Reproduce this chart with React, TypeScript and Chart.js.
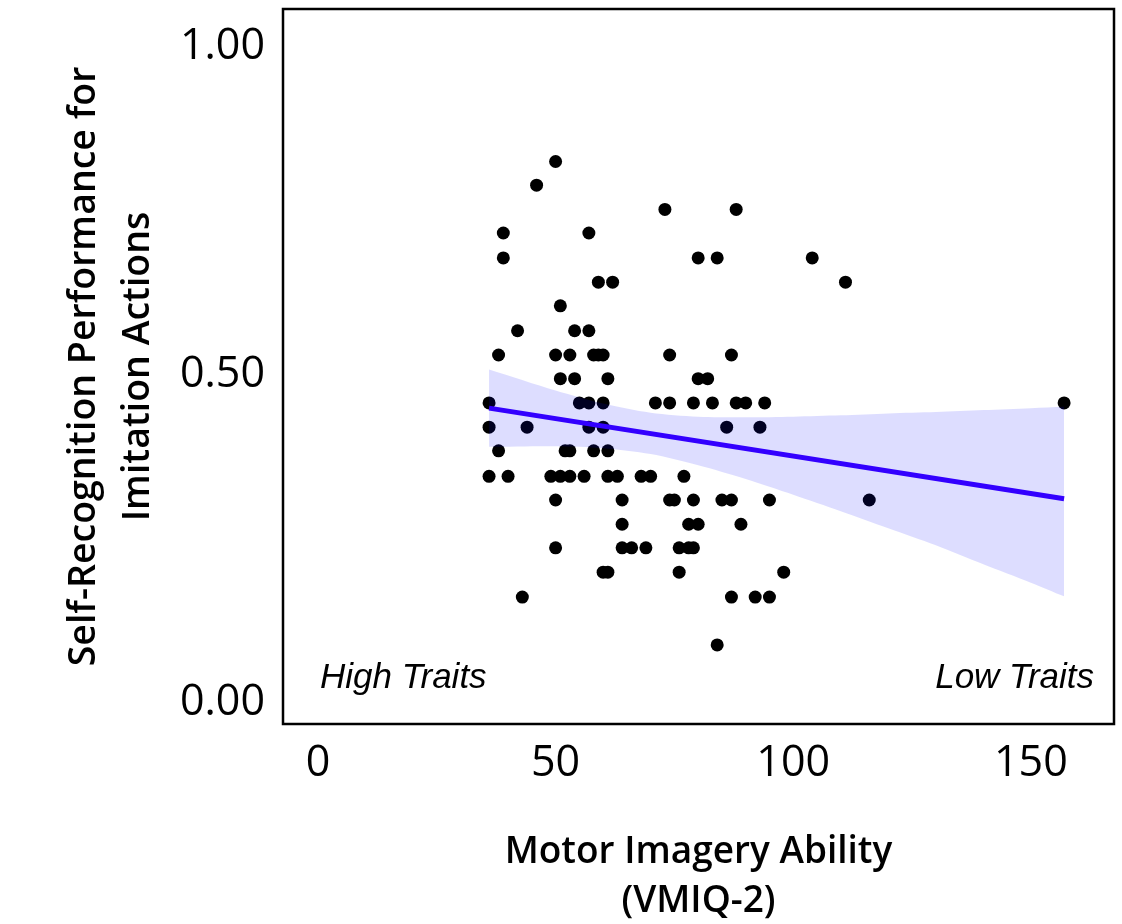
import { useEffect, useRef } from 'react';
import { Chart, registerables } from 'chart.js';

Chart.register(...registerables);

// VMIQ-2 total score (lower = stronger imagery) for each participant
const motorImagery = [
  50,
  46,
  73, 88,
  39, 57,
  39, 80, 84, 104,
  59, 62, 111,
  51,
  42, 54, 57,
  38, 50, 53, 58, 59, 60, 74, 87,
  51, 54, 61, 80, 82,
  36, 55, 57, 60, 71, 74, 79, 83, 88, 90, 94, 157,
  36, 44, 57, 60, 86, 93,
  38, 52, 53, 58, 61,
  36, 40, 49, 51, 53, 56, 61, 63, 68, 70, 77,
  50, 64, 74, 75, 79, 85, 87, 95, 116,
  64, 78, 80, 89,
  50, 64, 66, 69, 76, 78, 79,
  60, 61, 76, 98,
  43, 87, 92, 95,
  84,
];

// Proportion of imitation actions correctly recognised as one's own
const selfRecognition = [
  0.825,
  0.789,
  0.752, 0.752,
  0.716, 0.716,
  0.678, 0.678, 0.678, 0.678,
  0.641, 0.641, 0.641,
  0.605,
  0.567, 0.567, 0.567,
  0.530, 0.530, 0.530, 0.530, 0.530, 0.530, 0.530, 0.530,
  0.494, 0.494, 0.494, 0.494, 0.494,
  0.457, 0.457, 0.457, 0.457, 0.457, 0.457, 0.457, 0.457, 0.457, 0.457, 0.457, 0.457,
  0.420, 0.420, 0.420, 0.420, 0.420, 0.420,
  0.384, 0.384, 0.384, 0.384, 0.384,
  0.345, 0.345, 0.345, 0.345, 0.345, 0.345, 0.345, 0.345, 0.345, 0.345, 0.345,
  0.309, 0.309, 0.309, 0.309, 0.309, 0.309, 0.309, 0.309, 0.309,
  0.272, 0.272, 0.272, 0.272,
  0.236, 0.236, 0.236, 0.236, 0.236, 0.236, 0.236,
  0.199, 0.199, 0.199, 0.199,
  0.161, 0.161, 0.161, 0.161,
  0.088,
];

// Linear fit and its 95% confidence band
const fitX = [36, 157];
const fitY = [0.449, 0.311];
const bandX = [36, 50, 60, 70, 80, 90, 100, 110, 120, 130, 140, 150, 157];
const bandUpper = [0.508, 0.476, 0.456, 0.442, 0.436, 0.435, 0.436, 0.438, 0.441, 0.443, 0.446, 0.449, 0.451];
const bandLower = [0.390, 0.391, 0.388, 0.379, 0.362, 0.341, 0.317, 0.292, 0.266, 0.240, 0.211, 0.183, 0.162];

const xTicks = [0, 50, 100, 150];
const yTicks = [0, 0.5, 1];
const xTitle = ['Motor Imagery Ability', '(VMIQ-2)'];
const yTitle = ['Self-Recognition Performance for', 'Imitation Actions'];
const cornerNotes = ['High Traits', 'Low Traits'];

const SANS = '"Open Sans", "Noto Sans", sans-serif';

const frameAndNotes = {
  id: 'frameAndNotes',
  afterDatasetsDraw(chart: any) {
    const { ctx, chartArea: a } = chart;
    ctx.save();
    ctx.strokeStyle = '#000';
    ctx.lineWidth = 2.5;
    ctx.strokeRect(a.left, a.top, a.right - a.left, a.bottom - a.top);
    ctx.fillStyle = '#000';
    ctx.font = 'italic 35px "Liberation Sans", Arial, sans-serif';
    ctx.textBaseline = 'alphabetic';
    ctx.textAlign = 'left';
    ctx.fillText(cornerNotes[0], a.left + 37, a.bottom - 36);
    ctx.textAlign = 'right';
    ctx.fillText(cornerNotes[1], a.right - 20, a.bottom - 36);
    ctx.restore();
  },
};

export default function App() {
  const canvasRef = useRef<HTMLCanvasElement | null>(null);

  useEffect(() => {
    const canvas = canvasRef.current;
    if (!canvas) return;

    const points = motorImagery.map((x, i) => ({ x, y: selfRecognition[i] }));
    const fit = fitX.map((x, i) => ({ x, y: fitY[i] }));
    const upper = bandX.map((x, i) => ({ x, y: bandUpper[i] }));
    const lower = bandX.map((x, i) => ({ x, y: bandLower[i] }));

    const chart = new Chart(canvas, {
      type: 'line',
      data: {
        datasets: [
          {
            label: 'fit',
            data: fit,
            borderColor: '#3300ff',
            borderWidth: 5,
            pointRadius: 0,
            fill: false,
            order: 1,
          },
          {
            label: 'ci-upper',
            data: upper,
            borderColor: 'rgba(0,0,0,0)',
            borderWidth: 0,
            pointRadius: 0,
            backgroundColor: 'rgba(0,0,255,0.135)',
            fill: '+1',
            tension: 0.3,
            order: 2,
          },
          {
            label: 'ci-lower',
            data: lower,
            borderColor: 'rgba(0,0,0,0)',
            borderWidth: 0,
            pointRadius: 0,
            fill: false,
            tension: 0.3,
            order: 2,
          },
          {
            label: 'participants',
            data: points,
            showLine: false,
            pointRadius: 6.5,
            pointBorderWidth: 0,
            pointBackgroundColor: '#000',
            pointBorderColor: '#000',
            order: 3,
          },
        ],
      },
      options: {
        responsive: false,
        animation: false,
        devicePixelRatio: 1,
        events: [],
        layout: { padding: { top: 9, right: 8, left: 0, bottom: 0 } },
        plugins: {
          legend: { display: false },
          tooltip: { enabled: false },
        },
        scales: {
          x: {
            type: 'linear',
            min: -7.36,
            max: 167.5,
            afterBuildTicks: (s: any) => {
              s.ticks = xTicks.map((value) => ({ value }));
            },
            afterFit: (s: any) => {
              s.height = 200;
              s.paddingLeft = 0;
              s.paddingRight = 0;
            },
            grid: { display: false, drawTicks: false },
            border: { display: false },
            ticks: {
              color: '#000',
              padding: 14,
              maxRotation: 0,
              autoSkip: false,
              font: { family: SANS, size: 43 },
              callback: (v: any) => String(v),
            },
            title: {
              display: true,
              text: xTitle,
              color: '#000',
              font: { family: SANS, size: 37, weight: '600', lineHeight: 1.33 },
              padding: { top: 0, bottom: -2 },
            },
          },
          y: {
            type: 'linear',
            min: -0.0325,
            max: 1.0575,
            afterBuildTicks: (s: any) => {
              s.ticks = yTicks.map((value) => ({ value }));
            },
            afterFit: (s: any) => {
              s.width = 283;
              s.paddingTop = 0;
              s.paddingBottom = 0;
            },
            grid: { display: false, drawTicks: false },
            border: { display: false },
            ticks: {
              color: '#000',
              padding: 18,
              font: { family: SANS, size: 43 },
              callback: (v: any) => Number(v).toFixed(2),
            },
            title: {
              display: true,
              text: yTitle,
              color: '#000',
              font: { family: SANS, size: 37.5, weight: '600', lineHeight: 1.45 },
              padding: { top: 57, bottom: 0 },
            },
          },
        },
      },
      plugins: [frameAndNotes],
    });

    return () => chart.destroy();
  }, []);

  return (
    <div style={{ position: 'fixed', left: 0, top: 0, width: 1122, height: 924, background: '#fff' }}>
      <canvas ref={canvasRef} width={1122} height={924} style={{ display: 'block' }} />
    </div>
  );
}
